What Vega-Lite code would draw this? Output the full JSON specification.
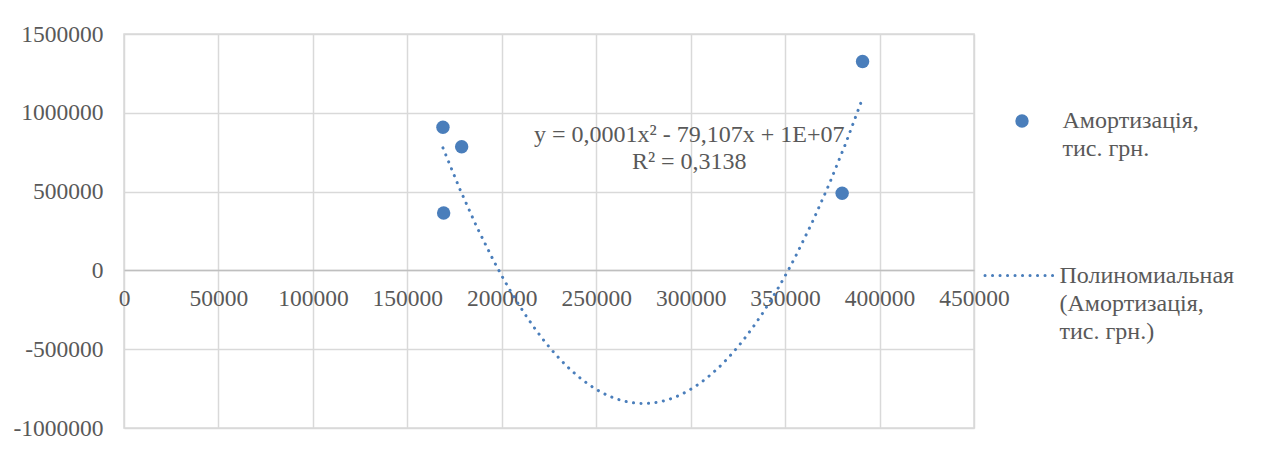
{
  "$schema": "https://vega.github.io/schema/vega-lite/v6.json",
  "width": 850,
  "height": 394,
  "autosize": {"type": "none"},
  "padding": {"left": 124, "top": 34, "right": 287, "bottom": 48},
  "background": "white",
  "config": {
    "font": "Liberation Serif",
    "view": {"stroke": "#D9D9D9", "strokeWidth": 1.5},
    "axis": {
      "labelFont": "Liberation Serif",
      "labelFontSize": 23.5,
      "labelColor": "#595959",
      "gridColor": "#D9D9D9",
      "gridWidth": 1.5,
      "ticks": false,
      "title": null
    },
    "legend": {
      "labelFont": "Liberation Serif",
      "labelFontSize": 24,
      "labelColor": "#595959",
      "padding": 0,
      "title": null,
      "labelLimit": 400
    }
  },
  "data": {
    "values": [
      {"x": 168860, "amort": 908000, "series": "Амортизація, тис. грн."},
      {"x": 178760, "amort": 785000, "series": "Амортизація, тис. грн."},
      {"x": 169230, "amort": 364000, "series": "Амортизація, тис. грн."},
      {"x": 380190, "amort": 490000, "series": "Амортизація, тис. грн."},
      {"x": 391000, "amort": 1325000, "series": "Амортизація, тис. грн."}
    ]
  },
  "encoding": {
    "x": {
      "field": "x",
      "type": "quantitative",
      "scale": {"domain": [0, 450000], "nice": false, "zero": false},
      "axis": {
        "values": [0, 50000, 100000, 150000, 200000, 250000, 300000, 350000, 400000, 450000],
        "labelExpr": "'' + datum.value",
        "offset": -158,
        "domainColor": "#BFBFBF",
        "domainWidth": 1.5,
        "labelPadding": 16,
        "labelFlush": false,
        "labelOverlap": false
      }
    },
    "y": {
      "field": "amort",
      "type": "quantitative",
      "scale": {"domain": [-1000000, 1500000], "nice": false, "zero": false},
      "axis": {
        "values": [-1000000, -500000, 0, 500000, 1000000, 1500000],
        "labelExpr": "'' + datum.value",
        "domain": false,
        "labelPadding": 21,
        "labelOverlap": false
      }
    }
  },
  "layer": [
    {
      "transform": [
        {"regression": "amort", "on": "x", "method": "poly", "order": 2}
      ],
      "mark": {
        "type": "line",
        "color": "#4A7EBB",
        "strokeWidth": 3,
        "strokeCap": "round",
        "clip": true
      },
      "encoding": {
        "strokeDash": {
          "datum": "Полиномиальная (Амортизація, тис. грн.)",
          "type": "nominal",
          "scale": {"range": [[0.1, 7.4]]},
          "legend": {
            "orient": "none",
            "legendX": 859.5,
            "legendY": 205,
            "symbolType": "stroke",
            "symbolSize": 4900,
            "symbolStrokeWidth": 3,
            "symbolStrokeColor": "#4A7EBB",
            "symbolDash": [0.1, 7.4],
            "labelOffset": 3,
            "labelExpr": "['Полиномиальная', '(Амортизація,', 'тис. грн.)']",
            "labelBaseline": "top",
            "encode": {
              "symbols": {"update": {"strokeCap": {"value": "round"}, "size": {"value": 4900}}},
              "labels": {"update": {"lineHeight": {"value": 28}, "dy": {"value": -12}}}
            }
          }
        }
      }
    },
    {
      "mark": {"type": "point", "filled": true, "size": 180, "opacity": 1},
      "encoding": {
        "color": {
          "field": "series",
          "type": "nominal",
          "scale": {"range": ["#4A7EBB"]},
          "legend": {
            "orient": "none",
            "legendX": 886,
            "legendY": 75,
            "symbolType": "circle",
            "symbolSize": 180,
            "symbolOpacity": 1,
            "labelOffset": 28.5,
            "labelExpr": "['Амортизація,', 'тис. грн.']",
            "labelBaseline": "top",
            "encode": {
              "labels": {"update": {"lineHeight": {"value": 28}, "dy": {"value": -12}}}
            }
          }
        }
      }
    },
    {
      "data": {
        "values": [
          {"x": 299250, "amort": 858000, "equation": "y = 0,0001x² - 79,107x + 1E+07\nR² = 0,3138"}
        ]
      },
      "mark": {
        "type": "text",
        "lineBreak": "\n",
        "lineHeight": 27,
        "fontSize": 24,
        "font": "Liberation Serif",
        "color": "#595959",
        "align": "center",
        "baseline": "middle"
      },
      "encoding": {
        "text": {"field": "equation", "type": "nominal"}
      }
    }
  ]
}
